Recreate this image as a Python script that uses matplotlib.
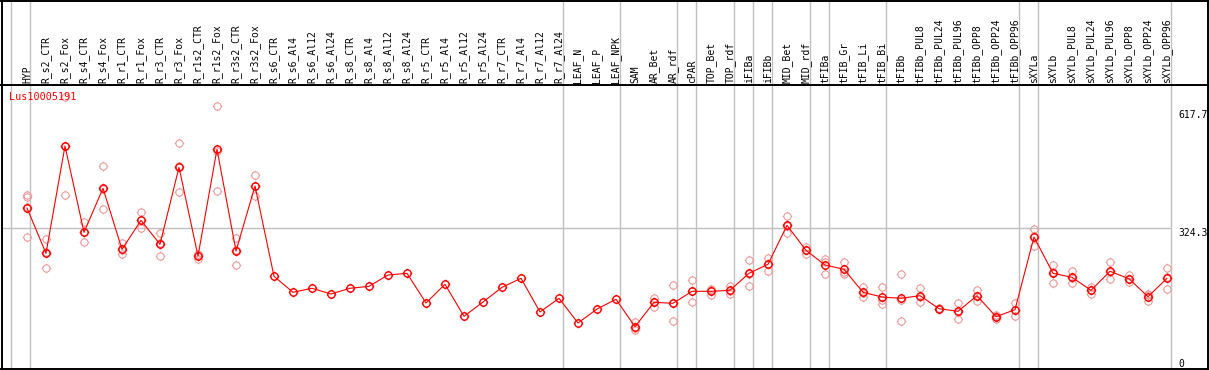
import numpy as np
import matplotlib
matplotlib.use("Agg")
from matplotlib import pyplot as plt
from matplotlib.path import Path
from matplotlib import transforms

# Data
gene_id = "Lus10005191"

categories = ["HYP", "R_s2_CTR", "R_s2_Fox", "R_s4_CTR", "R_s4_Fox", "R_r1_CTR", "R_r1_Fox",
              "R_r3_CTR", "R_r3_Fox", "R_r1s2_CTR", "R_r1s2_Fox", "R_r3s2_CTR", "R_r3s2_Fox",
              "R_s6_CTR", "R_s6_Al4", "R_s6_Al12", "R_s6_Al24", "R_s8_CTR", "R_s8_Al4",
              "R_s8_Al12", "R_s8_Al24", "R_r5_CTR", "R_r5_Al4", "R_r5_Al12", "R_r5_Al24",
              "R_r7_CTR", "R_r7_Al4", "R_r7_Al12", "R_r7_Al24", "LEAF_N", "LEAF_P", "LEAF_NPK",
              "SAM", "AR_Bet", "AR_rdf", "cPAR", "TOP_Bet", "TOP_rdf", "iFIBa", "iFIBb",
              "MID_Bet", "MID_rdf", "tFIBa", "tFIB_Gr", "tFIB_Li", "tFIB_Bi", "tFIBb",
              "tFIBb_PUL8", "tFIBb_PUL24", "tFIBb_PUL96", "tFIBb_OPP8", "tFIBb_OPP24",
              "tFIBb_OPP96", "sXYLa", "sXYLb", "sXYLb_PUL8", "sXYLb_PUL24", "sXYLb_PUL96",
              "sXYLb_OPP8", "sXYLb_OPP24", "sXYLb_OPP96"]

mean_values = [374.5, 262.4, 528.0, 314.4, 423.3, 272.3, 344.0, 284.7, 475.3, 255.7, 519.9,
               268.0, 429.0, 205.5, 165.9, 175.8, 161.7, 175.8, 180.7, 208.7, 212.9, 139.4,
               185.7, 106.4, 141.8, 178.2, 200.5, 117.1, 151.0, 89.9, 124.5, 148.5, 80.8,
               141.1, 138.6, 168.3, 168.3, 170.8, 212.9, 235.2, 331.7, 269.8, 233.4, 222.8,
               165.9, 154.2, 151.0, 157.5, 125.3, 118.8, 157.5, 105.5, 122.8, 302.8, 212.9,
               203.0, 170.8, 217.9, 199.5, 155.0, 200.5]

rep_values = [
    [406.7, 402.5, 377.8, 302.0], [297.0, 225.0, 265.0], [648.6, 406.7, 529.0],
    [339.0, 289.6, 314.0], [477.8, 371.3, 421.0], [287.0, 260.7, 270.0],
    [364.0, 324.3, 344.0], [311.9, 255.0, 287.0], [534.7, 413.4, 478.0],
    [247.6, 258.0, 261.0], [627.0, 416.6, 516.0], [301.0, 232.7, 270.0],
    [455.5, 403.5, 428.0],
    [], [], [], [], [], [], [], [], [], [], [], [], [], [], [], [], [], [], [],
    [93.0, 72.5, 77.0], [152.5, 128.7, 142.0], [183.2, 94.1, 138.5],
    [195.6, 141.1, 168.0], [174.0, 160.0, 171.0], [182.2, 162.4, 168.0],
    [245.8, 180.7, 212.0], [250.8, 217.9, 237.0], [354.0, 311.9, 329.0],
    [278.0, 260.7, 270.0], [249.0, 210.4, 240.0], [240.1, 211.9, 216.0],
    [179.7, 155.0, 163.0], [178.2, 136.2, 148.0], [211.2, 94.1, 148.0],
    [175.8, 142.6, 154.0], [127.0, 124.0, 125.0], [138.6, 100.5, 117.0],
    [171.6, 144.3, 157.0], [99.8, 108.0, 109.0], [138.6, 107.9, 122.0],
    [321.8, 280.5, 306.0], [232.7, 189.6, 216.0], [218.6, 188.1, 202.0],
    [179.7, 161.7, 171.0], [240.1, 198.0, 216.0], [208.7, 190.6, 199.0],
    [161.7, 145.1, 158.0], [225.3, 173.3, 203.0],
]

# category after which a separator is drawn
group_ends = [-1, 0, 28, 31, 34, 35, 37, 38, 39, 41, 42, 45, 52, 53, 60]

y_marks = [617.7, 324.3, 0]

# marker: circle with four small ticks
circ = Path.unit_circle()
tk = 1.3
tick_path = Path([(0, 1), (0, tk), (0, -1), (0, -tk), (1, 0), (tk, 0), (-1, 0), (-tk, 0)],
                 [Path.MOVETO, Path.LINETO] * 4)
marker = Path.make_compound_path(circ, tick_path)

mono = "DejaVu Sans Mono"
grey = "#c0c0c0"

fig = plt.figure(figsize=(12.09, 3.70), dpi=100)
W, H = 1209.0, 370.0
left, right = 1.5, 1208.0
x0, dx = 27.0, 19.0
xlim = ((left - x0) / dx, (right - x0) / dx)

top_px, bot_px = 85.3, 368.5
zero_px, k = 359.3, 0.40395
ylim = ((zero_px - bot_px) / k, (zero_px - top_px) / k)

ax = fig.add_axes([left / W, (H - bot_px) / H, (right - left) / W, (bot_px - top_px) / H])
hx = fig.add_axes([left / W, (H - top_px) / H, (right - left) / W, (top_px - 0.8) / H], sharex=ax)

idx = np.arange(len(categories))
sep = [g + 3.5 / dx for g in group_ends]

for a in (ax, hx):
    for s in sep:
        a.axvline(s, color=grey, lw=1.0, zorder=1)
    for sp in a.spines.values():
        sp.set_linewidth(1.4)
        sp.set_color("black")
    a.set_xticks([])
    a.set_yticks([])

ax.set_xlim(*xlim)
ax.set_ylim(*ylim)
hx.set_ylim(0, 1)

ax.hlines(324.3, xlim[0], sep[-1], color=grey, lw=1.0, zorder=1)

# replicates
for i, reps in enumerate(rep_values):
    if reps:
        ax.plot([i] * len(reps), reps, linestyle="none", marker=marker, markersize=6.8,
                markerfacecolor="none", markeredgecolor="#ec9c9c", markeredgewidth=0.8, zorder=2)

ax.plot(idx, mean_values, color="red", lw=0.8, marker=marker, markersize=6.8,
        markerfacecolor="none", markeredgecolor="red", markeredgewidth=1.0, zorder=3)

# right side value labels
tr = transforms.blended_transform_factory(ax.transAxes, ax.transData)
for v in y_marks:
    ax.text((1178 - left) / (right - left), v, f"{v:g}", transform=tr, ha="left", va="top",
            fontsize=7, family=mono, color="black")

ax.text((9 - left) / (right - left), (bot_px - 97) / (bot_px - top_px), gene_id,
        transform=ax.transAxes, ha="left", va="center", fontsize=7.3, family=mono, color="red")

# header labels
for i, c in enumerate(categories):
    hx.text(i, 0.025, c, rotation=90, ha="center", va="bottom", fontsize=7, family=mono,
            color="black")

fig.savefig("out.png", dpi=100)
